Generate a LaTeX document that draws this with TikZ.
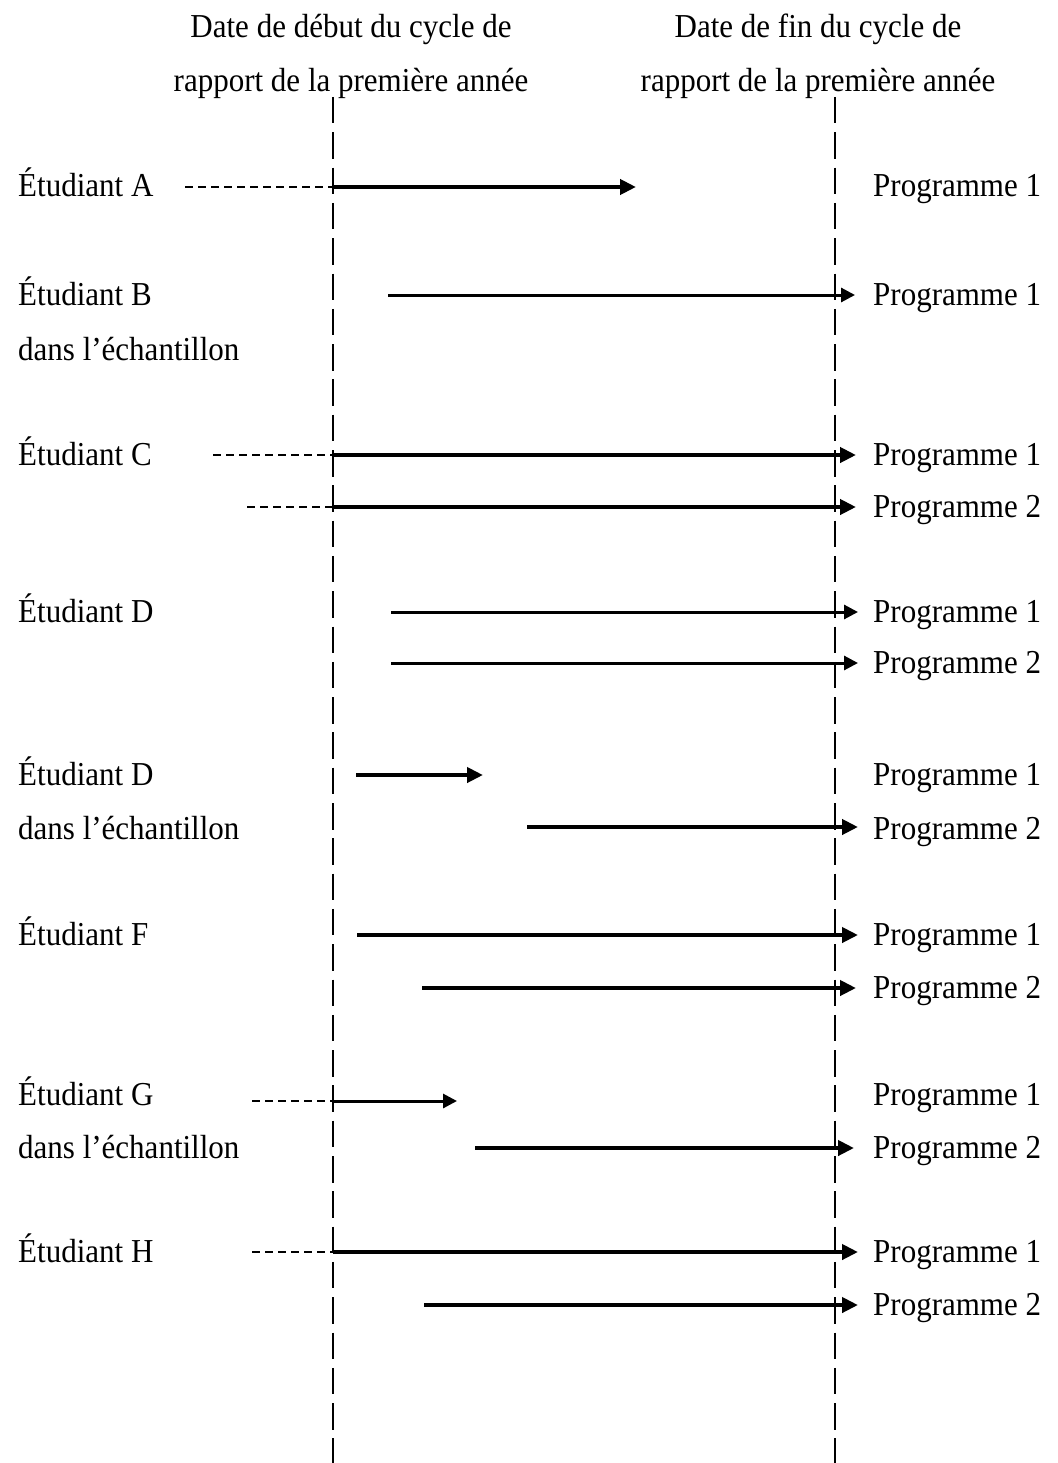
\documentclass[tikz,border=0pt]{standalone}
\usepackage{fontspec}
\setmainfont{Liberation Serif}
\usetikzlibrary{arrows.meta}
\newcommand{\etire}[1]{\scalebox{1}[1.08]{#1}}

\begin{document}
\begin{tikzpicture}[x=1pt,y=-1pt,
      every node/.append style={font=\fontsize{31}{36}\selectfont,inner sep=0pt},
      titre/.style={anchor=base},
      libelle/.style={anchor=base west},
      limite/.style={line width=2.6pt,dash pattern=on 26.5pt off 8.8pt},
      avant/.style={line width=2pt,dash pattern=on 8pt off 5pt},
      epais/.style={line width=4.3pt,-{Triangle[length=16pt,width=15pt]}},
      fin/.style={line width=3pt,-{Triangle[length=14pt,width=14pt]}}]
    \useasboundingbox (0,0) rectangle (1057,1463);
    % en-tetes et limites du cycle
    \node[titre] (debut1) at (351,38) {\etire{Date de début du cycle de}};
    \node[titre] (debut2) at (351,92) {\etire{rapport de la première année}};
    \node[titre] (fin1) at (818,38) {\etire{Date de fin du cycle de}};
    \node[titre] (fin2) at (818,92) {\etire{rapport de la première année}};
    \coordinate (debutH) at (333,97);
    \coordinate (debutB) at (333,1463);
    \coordinate (finH) at (835,97);
    \coordinate (finB) at (835,1463);
    \draw[limite] (debutH) -- (debutB);
    \draw[limite] (finH) -- (finB);

    % etudiants
    \node[libelle] (etA) at (18,197) {\etire{Étudiant A}};
    \node[libelle] (etB) at (18,305) {\etire{Étudiant B}};
    \node[libelle] (echB) at (18,360) {\etire{dans l’échantillon}};
    \node[libelle] (etC) at (18,465) {\etire{Étudiant C}};
    \node[libelle] (etD) at (18,622) {\etire{Étudiant D}};
    \node[libelle] (etDD) at (18,785) {\etire{Étudiant D}};
    \node[libelle] (echDD) at (18,839) {\etire{dans l’échantillon}};
    \node[libelle] (etF) at (18,945) {\etire{Étudiant F}};
    \node[libelle] (etG) at (18,1105) {\etire{Étudiant G}};
    \node[libelle] (echG) at (18,1158) {\etire{dans l’échantillon}};
    \node[libelle] (etH) at (18,1262) {\etire{Étudiant H}};

    % programmes
    \node[libelle] (progA1) at (873,197) {\etire{Programme 1}};
    \node[libelle] (progB1) at (873,305) {\etire{Programme 1}};
    \node[libelle] (progC1) at (873,465) {\etire{Programme 1}};
    \node[libelle] (progC2) at (873,517) {\etire{Programme 2}};
    \node[libelle] (progD1) at (873,622) {\etire{Programme 1}};
    \node[libelle] (progD2) at (873,673) {\etire{Programme 2}};
    \node[libelle] (progDD1) at (873,785) {\etire{Programme 1}};
    \node[libelle] (progDD2) at (873,839) {\etire{Programme 2}};
    \node[libelle] (progF1) at (873,945) {\etire{Programme 1}};
    \node[libelle] (progF2) at (873,998) {\etire{Programme 2}};
    \node[libelle] (progG1) at (873,1105) {\etire{Programme 1}};
    \node[libelle] (progG2) at (873,1158) {\etire{Programme 2}};
    \node[libelle] (progH1) at (873,1262) {\etire{Programme 1}};
    \node[libelle] (progH2) at (873,1315) {\etire{Programme 2}};

    % inscriptions
    \coordinate (a0) at (185,187);
    \coordinate (a1) at (333,187);
    \coordinate (a2) at (636,187);
    \draw[avant] (a0) -- (a1);
    \draw[epais] (a1) -- (a2);

    \coordinate (b1) at (388,295);
    \coordinate (b2) at (855,295);
    \draw[fin] (b1) -- (b2);

    \coordinate (c0) at (213,455);
    \coordinate (c1) at (333,455);
    \coordinate (c2) at (856,455);
    \draw[avant] (c0) -- (c1);
    \draw[epais] (c1) -- (c2);
    \coordinate (cc0) at (247,507);
    \coordinate (cc1) at (333,507);
    \coordinate (cc2) at (856,507);
    \draw[avant] (cc0) -- (cc1);
    \draw[epais] (cc1) -- (cc2);

    \coordinate (d1) at (391,612);
    \coordinate (d2) at (858,612);
    \draw[fin] (d1) -- (d2);
    \coordinate (dd1) at (391,663);
    \coordinate (dd2) at (858,663);
    \draw[fin] (dd1) -- (dd2);

    \coordinate (e1) at (356,775);
    \coordinate (e2) at (483,775);
    \draw[epais] (e1) -- (e2);
    \coordinate (ee1) at (527,827);
    \coordinate (ee2) at (858,827);
    \draw[epais] (ee1) -- (ee2);

    \coordinate (f1) at (357,935);
    \coordinate (f2) at (858,935);
    \draw[epais] (f1) -- (f2);
    \coordinate (ff1) at (422,988);
    \coordinate (ff2) at (856,988);
    \draw[epais] (ff1) -- (ff2);

    \coordinate (g0) at (252,1101);
    \coordinate (g1) at (333,1101);
    \coordinate (g2) at (457,1101);
    \draw[avant] (g0) -- (g1);
    \draw[fin] (g1) -- (g2);
    \coordinate (gg1) at (475,1148);
    \coordinate (gg2) at (854,1148);
    \draw[epais] (gg1) -- (gg2);

    \coordinate (h0) at (252,1252);
    \coordinate (h1) at (333,1252);
    \coordinate (h2) at (858,1252);
    \draw[avant] (h0) -- (h1);
    \draw[epais] (h1) -- (h2);
    \coordinate (hh1) at (424,1305);
    \coordinate (hh2) at (858,1305);
    \draw[epais] (hh1) -- (hh2);
\end{tikzpicture}
\end{document}
